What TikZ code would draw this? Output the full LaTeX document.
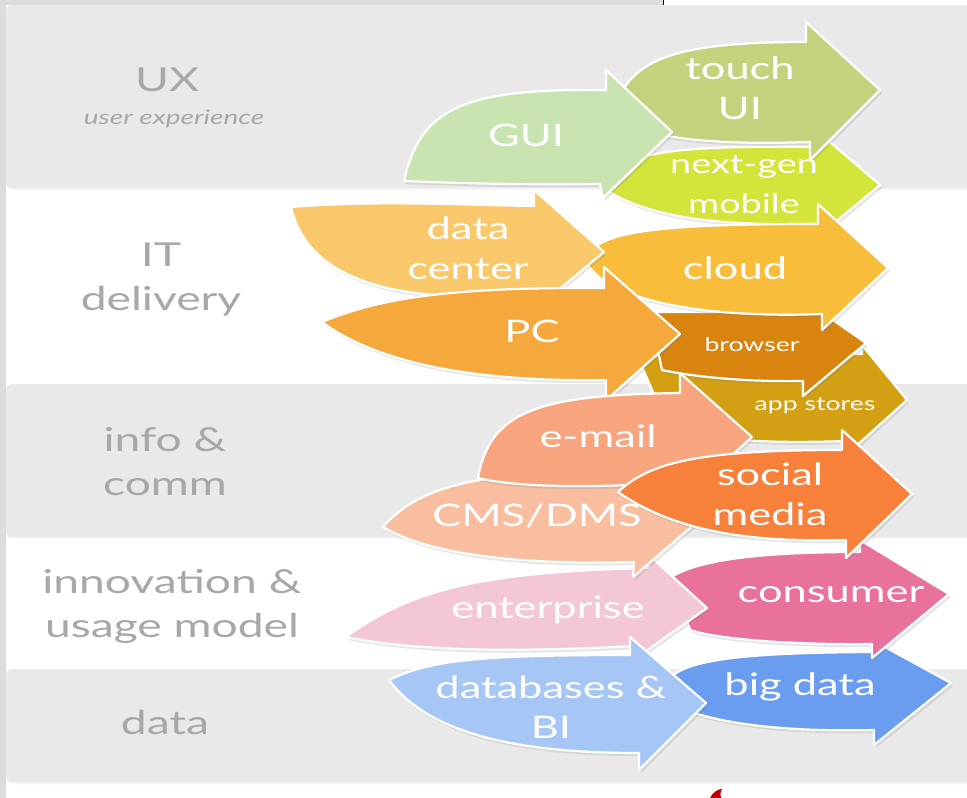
\documentclass[tikz,border=0pt]{standalone}
\usepackage{fontspec}
\setmainfont{Lato}
\newfontfamily\gs[FakeStretch=1.4]{Lato}
\usetikzlibrary{shadows}
\definecolor{outergray}{HTML}{DCDCDC}
\definecolor{bandgray}{HTML}{E9E9E9}
\definecolor{labelgray}{HTML}{A8A8A8}
\definecolor{cGUI}{HTML}{C9E3B1}
\definecolor{cTouch}{HTML}{C5D27D}
\definecolor{cNext}{HTML}{D3E53A}
\definecolor{cData}{HTML}{F8C86A}
\definecolor{cCloud}{HTML}{F7BD3B}
\definecolor{cPC}{HTML}{F5A83B}
\definecolor{cBrowser}{HTML}{D8840F}
\definecolor{cApp}{HTML}{D2A012}
\definecolor{cMail}{HTML}{F8A47E}
\definecolor{cCMS}{HTML}{F8BE9F}
\definecolor{cSocial}{HTML}{F7803B}
\definecolor{cEnt}{HTML}{F4C7D6}
\definecolor{cCons}{HTML}{E8729C}
\definecolor{cDB}{HTML}{A6C6F6}
\definecolor{cBig}{HTML}{6A9DEF}
\begin{document}
\begin{tikzpicture}[x=1pt,y=-1pt,
  band/.style={fill=bandgray, rounded corners=6pt, drop shadow={shadow xshift=0pt,shadow yshift=-2pt,opacity=0.08}},
  arr/.style={draw=white, line width=2.2pt, line join=round, drop shadow={shadow xshift=2pt,shadow yshift=-3pt,opacity=0.2}},
  atext/.style={text=white, inner sep=0pt, align=center, font=\gs\fontsize{31}{40}\selectfont},
  mtext/.style={text=white, inner sep=0pt, align=center, font=\gs\fontsize{27}{40}\selectfont},
  stext/.style={text=white, inner sep=0pt, align=center, font=\gs\fontsize{19}{24}\selectfont},
  ltext/.style={text=labelgray, inner sep=0pt, align=center, font=\gs\fontsize{33}{44}\selectfont}]
\useasboundingbox (0,0) rectangle (967,798);
% background
\fill[white] (0,0) rectangle (967,798);
\fill[outergray] (0,0) rectangle (663,5);
\fill[outergray] (0,0) rectangle (6,798);
\draw[black, line width=1pt] (663,0) -- (663,6);
\path[band] (6,5) rectangle (980,188);
\path[band] (6,384) rectangle (980,537);
\path[band] (6,669) rectangle (980,782);
\fill[red!75!black] (710,798) .. controls (713,792) and (718,789) .. (722,789) .. controls (720,793) and (720,796) .. (721,798) -- cycle;
% row labels
\node[ltext] (ux) at (167,80) {UX};
\node[text=labelgray, inner sep=0pt, font=\gs\itshape\fontsize{20}{24}\selectfont] (uxsub) at (174,119) {user experience};
\node[ltext] (it) at (161,280) {IT\\delivery};
\node[ltext] (info) at (165,462) {info \&\\comm};
\node[ltext] (innov) at (172,606) {innovation \&\\usage model};
\node[ltext] (data) at (165,722) {data};
% UX row
\path[arr, fill=cNext] (606,190) .. controls (615,155) and (650,145) .. (816,147) -- (816,130) -- (880,185) -- (816,238) -- (816,224) .. controls (720,226) and (650,218) .. cycle;
\path[arr, fill=cTouch] (612,118) .. controls (625,60) and (670,42) .. (806,42) -- (806,22) -- (880,90) -- (810,160) -- (810,142) .. controls (720,145) and (650,140) .. cycle;
\path[arr, fill=cGUI] (404,181) .. controls (420,110) and (460,88) .. (606,90) -- (606,70) -- (672,132) -- (603,198) -- (600,184) .. controls (520,185) and (450,183) .. cycle;
\node[atext] (touch) at (740,88) {touch\\UI};
\node[mtext] (next) at (744,185) {next-gen\\mobile};
\node[atext] (gui) at (526,135) {GUI};
% IT delivery row
\path[arr, fill=cApp] (640,362) .. controls (650,352) and (680,352) .. (862,354) -- (862,345) -- (907,400) -- (845,456) -- (845,441) .. controls (760,444) and (690,440) .. (665,420) -- cycle;
\path[arr, fill=cBrowser] (650,312) -- (804,312) -- (804,300) -- (866,343) -- (803,396) -- (803,381) .. controls (740,382) and (690,376) .. (662,370) -- cycle;
\path[arr, fill=cCloud] (586,262) .. controls (590,232) and (650,224) .. (818,224) -- (818,204) -- (888,268) -- (822,330) -- (822,314) .. controls (720,318) and (610,305) .. cycle;
\path[arr, fill=cData] (291,207) .. controls (380,200) and (460,205) .. (534,206) -- (534,190) -- (604,252) -- (540,305) -- (540,292) .. controls (420,305) and (310,290) .. cycle;
\path[arr, fill=cPC] (322,322) .. controls (380,298) and (450,287) .. (604,288) -- (604,267) -- (680,334) -- (606,400) -- (606,380) .. controls (480,382) and (380,365) .. cycle;
\node[stext] (appstores) at (815,406) {app stores};
\node[stext] (browser) at (752,345) {browser};
\node[atext] (cloud) at (735,268) {cloud};
\node[atext] (datacenter) at (468,248) {data\\center};
\node[atext] (pc) at (532,331) {PC};
% innovation & data rows
\path[arr, fill=cBig] (660,697) .. controls (665,665) and (700,653) .. (872,652) -- (872,640) -- (951,683) -- (874,745) -- (874,730) .. controls (790,732) and (700,725) .. cycle;
\path[arr, fill=cCons] (673,576) .. controls (700,560) and (760,552) .. (860,552) -- (860,540) -- (949,594) -- (872,658) -- (872,644) .. controls (800,645) and (720,640) .. (690,630) -- cycle;
\path[arr, fill=cEnt] (346,637) .. controls (410,590) and (480,572) .. (648,568) -- (650,556) -- (707,608) -- (636,658) -- (636,646) .. controls (520,652) and (420,652) .. cycle;
\path[arr, fill=cDB] (389,680) .. controls (430,660) and (480,655) .. (630,655) -- (630,637) -- (706,703) -- (639,770) -- (639,753) .. controls (520,753) and (430,735) .. cycle;
\node[atext] (bigdata) at (800,687) {big data};
\node[atext] (consumer) at (831,595) {consumer};
\node[atext] (enterprise) at (548,610) {enterprise};
\node[atext] (databases) at (551,707) {databases \&\\BI};
% info & comm row
\path[arr, fill=cCMS] (383,527) .. controls (420,485) and (480,470) .. (636,472) -- (636,455) -- (705,515) -- (633,577) -- (634,562) .. controls (520,565) and (430,555) .. cycle;
\path[arr, fill=cMail] (478,478) .. controls (490,410) and (540,395) .. (680,393) -- (680,373) -- (752,437) -- (682,500) -- (682,482) .. controls (600,488) and (520,488) .. cycle;
\path[arr, fill=cSocial] (618,492) .. controls (650,462) and (700,450) .. (842,450) -- (842,430) -- (912,494) -- (846,558) -- (846,540) .. controls (760,542) and (680,535) .. cycle;
\node[atext] (cms) at (537,516) {CMS/DMS};
\node[atext] (email) at (598,436) {e-mail};
\node[atext] (social) at (770,494) {social\\media};
\end{tikzpicture}
\end{document}
